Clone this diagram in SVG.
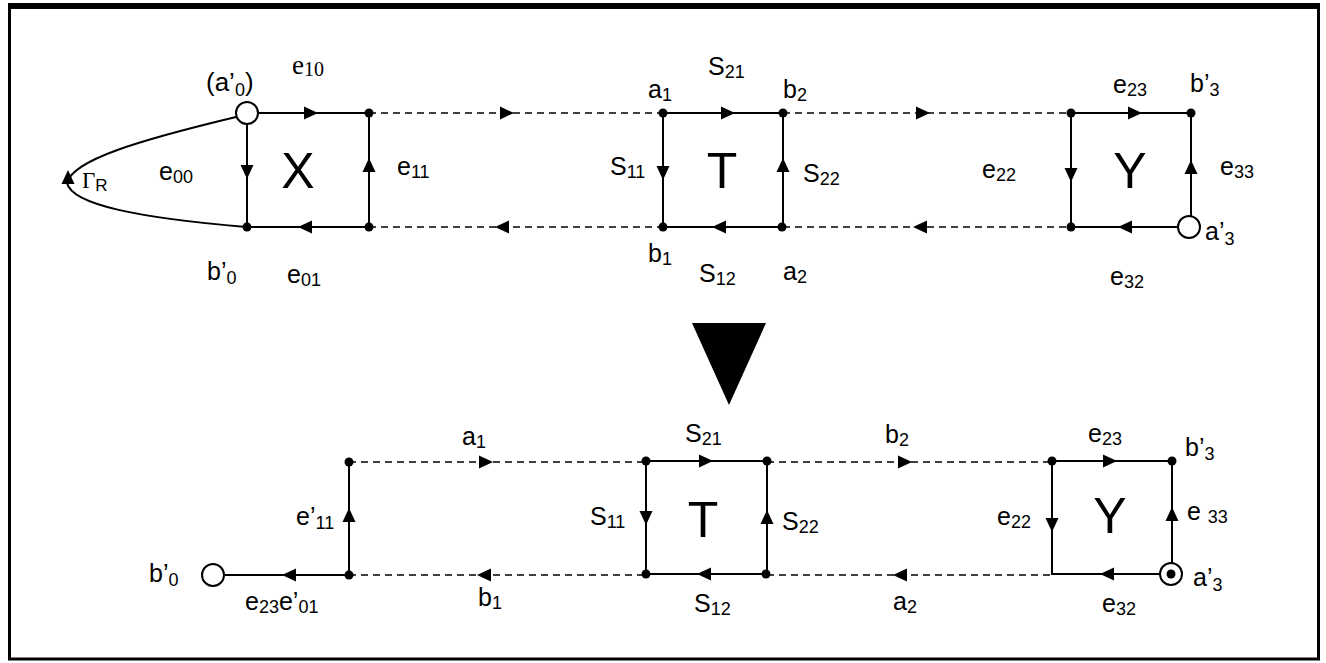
<svg xmlns="http://www.w3.org/2000/svg" xmlns:xlink="http://www.w3.org/1999/xlink" width="1326" height="663" viewBox="0 0 1326 663">
<style>
.s{stroke:#000;stroke-width:2;fill:none}
.d{stroke:#000;stroke-width:1.7;fill:none;stroke-dasharray:7 5}
.dot{fill:#000}
.oc{fill:#fff;stroke:#000;stroke-width:2}
text{font-family:"Liberation Sans",Arial,sans-serif;font-size:25px;fill:#000}
.big{font-size:50px;text-anchor:middle}
.sub{font-size:18px}
.ser{font-family:"Liberation Serif","Times New Roman",serif}
</style>
<defs>
<path id="ar" d="M0,0 L-14,-6.5 L-14,6.5 Z" fill="#000"/>
</defs>
<rect x="9.5" y="7" width="1309" height="652" fill="#fff" stroke="#000" stroke-width="3"/>
<line x1="8" y1="6" x2="1320" y2="6" stroke="#000" stroke-width="6"/>

<g id="connectors">
<path class="s" d="M236,117 C140,140 72,160 67,183 C 72,205 140,218 246,227"/>
<use xlink:href="#ar" transform="translate(68,170) rotate(-90)"/>
<line class="d" x1="369" y1="113" x2="663" y2="113"/>
<use xlink:href="#ar" transform="translate(514,113)"/>
<line class="d" x1="369" y1="227" x2="663" y2="227"/>
<use xlink:href="#ar" transform="translate(495,227) rotate(180)"/>
<line class="d" x1="783" y1="113" x2="1071" y2="113"/>
<use xlink:href="#ar" transform="translate(930,113)"/>
<line class="d" x1="783" y1="227" x2="1071" y2="227"/>
<use xlink:href="#ar" transform="translate(913,227) rotate(180)"/>
<line class="d" x1="349" y1="462" x2="646" y2="462"/>
<use xlink:href="#ar" transform="translate(493,462)"/>
<line class="d" x1="349" y1="575" x2="646" y2="575"/>
<use xlink:href="#ar" transform="translate(477,575) rotate(180)"/>
<line class="d" x1="767" y1="462" x2="1052" y2="462"/>
<use xlink:href="#ar" transform="translate(912,462)"/>
<line class="d" x1="767" y1="575" x2="1052" y2="575"/>
<use xlink:href="#ar" transform="translate(893,575) rotate(180)"/>
</g>

<g id="nodeX">
<path class="s" d="M247,113 H369 V227 H247 Z"/>
<use xlink:href="#ar" transform="translate(318,113)"/>
<use xlink:href="#ar" transform="translate(247,179) rotate(90)"/>
<use xlink:href="#ar" transform="translate(369,158) rotate(-90)"/>
<use xlink:href="#ar" transform="translate(298,227) rotate(180)"/>
<circle class="oc" cx="247" cy="113" r="11"/>
<circle class="dot" cx="369" cy="113" r="4.5"/>
<circle class="dot" cx="247" cy="227" r="4.5"/>
<circle class="dot" cx="369" cy="227" r="4.5"/>
<text x="298" y="188" class="big">X</text>
<text x="206" y="91" style="font-size:26px">(a’<tspan class="sub" dy="5">0</tspan><tspan dy="-5">)</tspan></text>
<text x="292" y="74" class="ser" style="font-size:27px">e<tspan class="sub ser" style="font-size:20px" dy="2">10</tspan></text>
<text x="159" y="180">e<tspan class="sub" dy="3">00</tspan></text>
<text x="397" y="175">e<tspan class="sub" dy="3">11</tspan></text>
<text x="82" y="188" class="ser" style="font-size:23px">Γ<tspan class="sub" style="font-family:'Liberation Sans',sans-serif;font-size:17px" dy="3">R</tspan></text>
<text x="207" y="280">b’<tspan class="sub" dy="4">0</tspan></text>
<text x="287" y="283">e<tspan class="sub" dy="3">01</tspan></text>
</g>

<g id="nodeT">
<path class="s" d="M663,113 H783 V227 H663 Z"/>
<use xlink:href="#ar" transform="translate(735,113)"/>
<use xlink:href="#ar" transform="translate(663,180) rotate(90)"/>
<use xlink:href="#ar" transform="translate(783,158) rotate(-90)"/>
<use xlink:href="#ar" transform="translate(712,227) rotate(180)"/>
<circle class="dot" cx="663" cy="113" r="4.5"/>
<circle class="dot" cx="783" cy="113" r="4.5"/>
<circle class="dot" cx="663" cy="227" r="4.5"/>
<circle class="dot" cx="782" cy="227" r="4.5"/>
<text x="722" y="188" class="big">T</text>
<text x="708" y="75">S<tspan class="sub" dy="3">21</tspan></text>
<text x="648" y="98">a<tspan class="sub" dy="3">1</tspan></text>
<text x="783" y="98">b<tspan class="sub" dy="3">2</tspan></text>
<text x="610" y="175">S<tspan class="sub" dy="3">11</tspan></text>
<text x="803" y="182">S<tspan class="sub" dy="3">22</tspan></text>
<text x="648" y="262">b<tspan class="sub" dy="3">1</tspan></text>
<text x="699" y="282">S<tspan class="sub" dy="3">12</tspan></text>
<text x="783" y="280">a<tspan class="sub" dy="3">2</tspan></text>
</g>

<g id="nodeY">
<path class="s" d="M1071,113 H1191 V227 H1071 Z"/>
<use xlink:href="#ar" transform="translate(1142,113)"/>
<use xlink:href="#ar" transform="translate(1071,182) rotate(90)"/>
<use xlink:href="#ar" transform="translate(1191,160) rotate(-90)"/>
<use xlink:href="#ar" transform="translate(1118,227) rotate(180)"/>
<circle class="dot" cx="1071" cy="113" r="4.5"/>
<circle class="dot" cx="1191" cy="113" r="4.5"/>
<circle class="dot" cx="1071" cy="227" r="4.5"/>
<circle class="oc" cx="1189" cy="227" r="11"/>
<text x="1130" y="188" class="big">Y</text>
<text x="1113" y="93">e<tspan class="sub" dy="3">23</tspan></text>
<text x="1190" y="92">b’<tspan class="sub" dy="4">3</tspan></text>
<text x="982" y="178">e<tspan class="sub" dy="3">22</tspan></text>
<text x="1220" y="175">e<tspan class="sub" dy="3">33</tspan></text>
<text x="1205" y="240">a’<tspan class="sub" dy="5">3</tspan></text>
<text x="1110" y="285">e<tspan class="sub" dy="3">32</tspan></text>
</g>

<g id="transform-arrow">
<polygon points="692,323 766,323 729,405" fill="#000"/>
</g>

<g id="nodeLeft">
<path class="s" d="M224,575 H349 V462"/>
<use xlink:href="#ar" transform="translate(282,575) rotate(180)"/>
<use xlink:href="#ar" transform="translate(349,508) rotate(-90)"/>
<circle class="oc" cx="213" cy="575" r="11"/>
<circle class="dot" cx="349" cy="462" r="4.5"/>
<circle class="dot" cx="349" cy="575" r="4.5"/>
<text x="149" y="582">b’<tspan class="sub" dy="4">0</tspan></text>
<text x="245" y="610">e<tspan class="sub" dy="3">23</tspan><tspan dy="-3">e’</tspan><tspan class="sub" dy="3">01</tspan></text>
<text x="296" y="525">e’<tspan class="sub" dy="4">11</tspan></text>
<text x="462" y="445">a<tspan class="sub" dy="3">1</tspan></text>
<text x="478" y="606">b<tspan class="sub" dy="3">1</tspan></text>
</g>

<g id="nodeT2">
<path class="s" d="M646,461 H767 V574 H646 Z"/>
<use xlink:href="#ar" transform="translate(713,461)"/>
<use xlink:href="#ar" transform="translate(646,525) rotate(90)"/>
<use xlink:href="#ar" transform="translate(767,510) rotate(-90)"/>
<use xlink:href="#ar" transform="translate(697,574) rotate(180)"/>
<circle class="dot" cx="646" cy="461" r="4.5"/>
<circle class="dot" cx="767" cy="461" r="4.5"/>
<circle class="dot" cx="646" cy="574" r="4.5"/>
<circle class="dot" cx="766" cy="574" r="4.5"/>
<text x="703" y="537" class="big">T</text>
<text x="685" y="442">S<tspan class="sub" dy="3">21</tspan></text>
<text x="885" y="443">b<tspan class="sub" dy="3">2</tspan></text>
<text x="590" y="525">S<tspan class="sub" dy="3">11</tspan></text>
<text x="782" y="530">S<tspan class="sub" dy="3">22</tspan></text>
<text x="694" y="612">S<tspan class="sub" dy="3">12</tspan></text>
<text x="893" y="610">a<tspan class="sub" dy="3">2</tspan></text>
</g>

<g id="nodeY2">
<path class="s" d="M1052,461 H1172 V574 H1052 Z"/>
<use xlink:href="#ar" transform="translate(1117,461)"/>
<use xlink:href="#ar" transform="translate(1052,532) rotate(90)"/>
<use xlink:href="#ar" transform="translate(1172,507) rotate(-90)"/>
<use xlink:href="#ar" transform="translate(1100,574) rotate(180)"/>
<circle class="dot" cx="1052" cy="461" r="4.5"/>
<circle class="dot" cx="1172" cy="461" r="4.5"/>
<circle class="oc" cx="1171" cy="574" r="11"/>
<circle class="dot" cx="1171" cy="574" r="4.5"/>
<text x="1110" y="533" class="big">Y</text>
<text x="1088" y="442">e<tspan class="sub" dy="3">23</tspan></text>
<text x="1185" y="456">b’<tspan class="sub" dy="4">3</tspan></text>
<text x="997" y="525">e<tspan class="sub" dy="3">22</tspan></text>
<text x="1187" y="520">e <tspan class="sub" dy="3">33</tspan></text>
<text x="1193" y="586">a’<tspan class="sub" dy="5">3</tspan></text>
<text x="1102" y="612">e<tspan class="sub" dy="3">32</tspan></text>
</g>
</svg>
